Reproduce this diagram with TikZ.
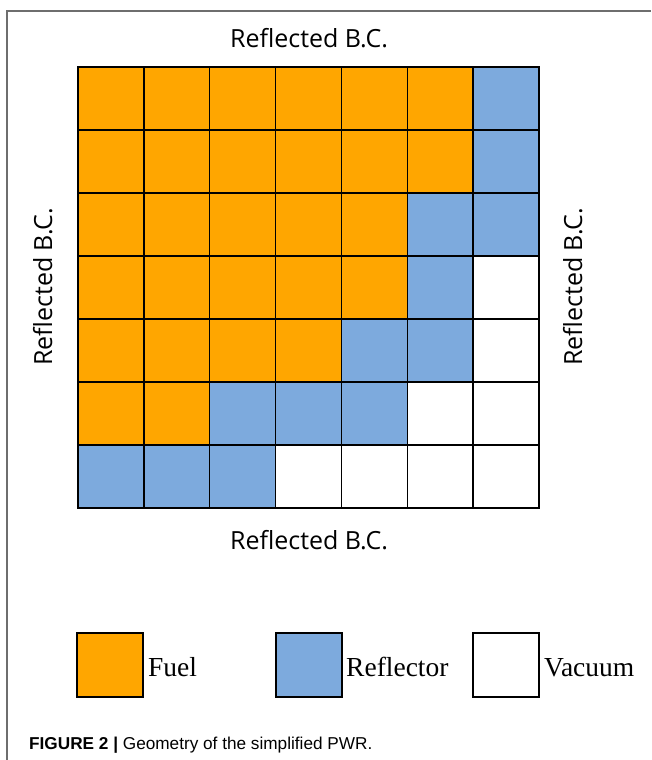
\documentclass[tikz,border=0pt]{standalone}
\usepackage{fontspec}
\setmainfont{Liberation Serif}
\newfontfamily\lblfont{Open Sans}
\newfontfamily\capfont{Liberation Sans}
\definecolor{fuelc}{RGB}{255,166,0}
\definecolor{reflc}{RGB}{125,170,221}
\definecolor{framec}{RGB}{110,110,110}
\begin{document}
\begin{tikzpicture}[x=1pt,y=-1pt,
  cell/.style={draw=black,line width=1.5pt,minimum width=65.86pt,minimum height=63pt,inner sep=0pt,outer sep=0pt,anchor=north west},
  F/.style={cell,fill=fuelc},
  R/.style={cell,fill=reflc},
  V/.style={cell,fill=white},
  legbox/.style={draw=black,line width=1.2pt,minimum width=66pt,minimum height=64pt,inner sep=0pt,outer sep=0pt,anchor=north west},
  bclabel/.style={font=\lblfont\fontsize{25}{28}\selectfont,inner sep=0pt,anchor=base},
  legtext/.style={font=\fontsize{27.5}{30}\selectfont,inner sep=0pt,anchor=base west},
]
\useasboundingbox (0,0) rectangle (651,760);
\fill[white] (0,0) rectangle (651,760);
\coordinate (fa) at (7,760);
\coordinate (fb) at (7,11);
\coordinate (fc) at (651,11);
\draw[framec,line width=1.5pt] (fa) -- (fb) -- (fc);
% grid
\foreach \r/\row in {0/{F,F,F,F,F,F,R},1/{F,F,F,F,F,F,R},2/{F,F,F,F,F,R,R},3/{F,F,F,F,F,R,V},4/{F,F,F,F,R,R,V},5/{F,F,R,R,R,V,V},6/{R,R,R,V,V,V,V}}{
  \foreach \t [count=\c from 0] in \row {
    \node[\t] (c\r\c) at ({78+\c*65.86},{67+\r*63}) {};
  }
}
% labels
\node[bclabel] (top) at (309,48) {Reflected B.C.};
\node[bclabel] (bot) at (309,549) {Reflected B.C.};
\node[bclabel,rotate=90] (left) at (52,287) {Reflected B.C.};
\node[bclabel,rotate=90] (right) at (582,287) {Reflected B.C.};
% legend
\node[legbox,fill=fuelc] (lf) at (77,633) {};
\node[legtext] (tf) at (148,676) {Fuel};
\node[legbox,fill=reflc] (lr) at (276,633) {};
\node[legtext] (tr) at (346,676) {Reflector};
\node[legbox,fill=white] (lv) at (473,633) {};
\node[legtext] (tv) at (544,676) {Vacuum};
% caption
\node[font=\capfont\fontsize{17.2}{20}\selectfont,inner sep=0pt,anchor=base west] (cap) at (29,749) {\textbf{FIGURE 2 |} Geometry of the simplified PWR.};
\end{tikzpicture}
\end{document}
